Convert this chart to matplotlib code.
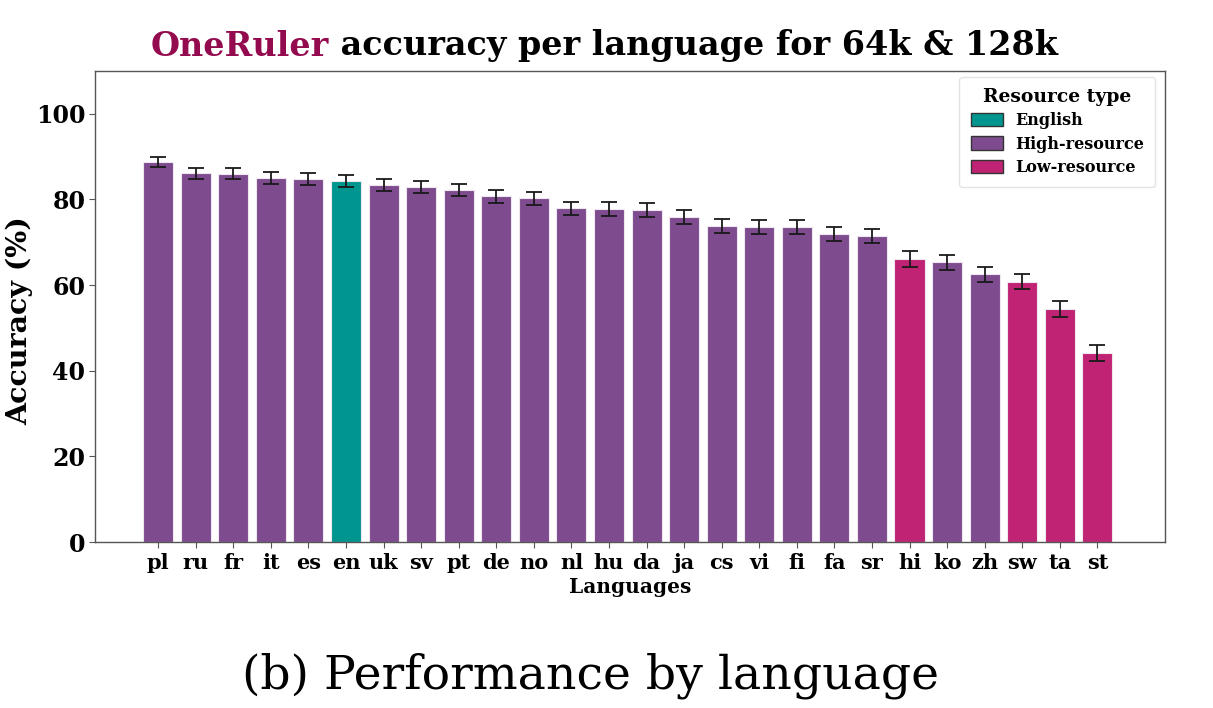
import numpy as np
import matplotlib.pyplot as plt
from matplotlib.patches import Patch

# values
languages = ["pl", "ru", "fr", "it", "es", "en", "uk", "sv", "pt", "de", "no", "nl", "hu",
             "da", "ja", "cs", "vi", "fi", "fa", "sr", "hi", "ko", "zh", "sw", "ta", "st"]
accuracy = [88.7, 86.1, 86.0, 85.1, 84.8, 84.3, 83.3, 82.9, 82.3, 80.7, 80.3, 77.9, 77.7,
            77.5, 75.9, 73.8, 73.5, 73.5, 71.9, 71.5, 66.1, 65.3, 62.5, 60.8, 54.5, 44.2]
errors = [1.2, 1.3, 1.3, 1.4, 1.4, 1.3, 1.4, 1.4, 1.4, 1.5, 1.5, 1.6, 1.6,
          1.6, 1.6, 1.6, 1.6, 1.6, 1.65, 1.7, 1.8, 1.8, 1.75, 1.8, 1.85, 1.85]
resource = ["High"] * 5 + ["English"] + ["High"] * 14 + ["Low", "High", "High", "Low", "Low", "Low"]

colors = {"English": "#00968f", "High": "#7e4b8f", "Low": "#c02373"}
FONT = "DejaVu Serif"

fig = plt.figure(figsize=(12.13, 7.08), dpi=100)
ax = fig.add_axes([95 / 1213, 1 - 542 / 708, (1165 - 95) / 1213, (542 - 71) / 708])

x = np.arange(len(languages))
ax.bar(x, accuracy, width=0.8, color=[colors[r] for r in resource],
       edgecolor="#f0e6f0", linewidth=0.8, zorder=2)
ax.errorbar(x, accuracy, yerr=errors, fmt="none", ecolor="#1a1a1a",
            elinewidth=1.3, capsize=6, capthick=1.3, zorder=3)

ax.set_xlim(-1.68, 26.8)
ax.set_ylim(0, 110)
ax.set_xticks(x)
ax.set_xticklabels(languages, fontfamily=FONT, fontweight="bold", fontsize=15)
ax.set_yticks([0, 20, 40, 60, 80, 100])
ax.set_yticklabels(["0", "20", "40", "60", "80", "100"], fontfamily=FONT,
                   fontweight="bold", fontsize=17)
ax.tick_params(axis="x", length=4, color="#555555", pad=4)
ax.tick_params(axis="y", length=4, color="#555555", pad=3)
for s in ax.spines.values():
    s.set_color("#555555")
    s.set_linewidth(1.0)

ax.set_ylabel("Accuracy (%)", fontfamily=FONT, fontweight="bold", fontsize=20.5)
ax.yaxis.set_label_coords(-0.058, 0.47)
ax.set_xlabel("Languages", fontfamily=FONT, fontweight="bold", fontsize=14.5, labelpad=3)

handles = [Patch(facecolor=colors["English"], edgecolor="#333333", label="English"),
           Patch(facecolor=colors["High"], edgecolor="#333333", label="High-resource"),
           Patch(facecolor=colors["Low"], edgecolor="#333333", label="Low-resource")]
leg = ax.legend(handles=handles, title="Resource type", loc="upper right",
                bbox_to_anchor=(0.9985, 1.005), frameon=True, fancybox=True,
                prop={"family": FONT, "weight": "bold", "size": 11.5},
                title_fontproperties={"family": FONT, "weight": "bold", "size": 13.5},
                handlelength=2.0, handleheight=0.9, borderpad=0.7, labelspacing=0.4)
leg.get_frame().set_edgecolor("#dddddd")

# two-colour title
fig.canvas.draw()
r = fig.canvas.get_renderer()
t1 = fig.text(0, 1 - 46 / 708, "OneRuler", color="#930a4f", fontfamily=FONT,
              fontweight="bold", fontsize=24, va="center", ha="left")
t2 = fig.text(0, 1 - 46 / 708, " accuracy per language for 64k & 128k", color="black",
              fontfamily=FONT, fontweight="bold", fontsize=24, va="center", ha="left")
w1 = t1.get_window_extent(r).width / fig.bbox.width
w2 = t2.get_window_extent(r).width / fig.bbox.width
x0 = 604 / 1213 - (w1 + w2) / 2
t1.set_x(x0)
t2.set_x(x0 + w1)

fig.text(590 / 1213, 1 - 676 / 708, "(b) Performance by language",
         fontfamily="DejaVu Serif", fontsize=34, ha="center", va="center")

fig.savefig("out.png", dpi=100)
